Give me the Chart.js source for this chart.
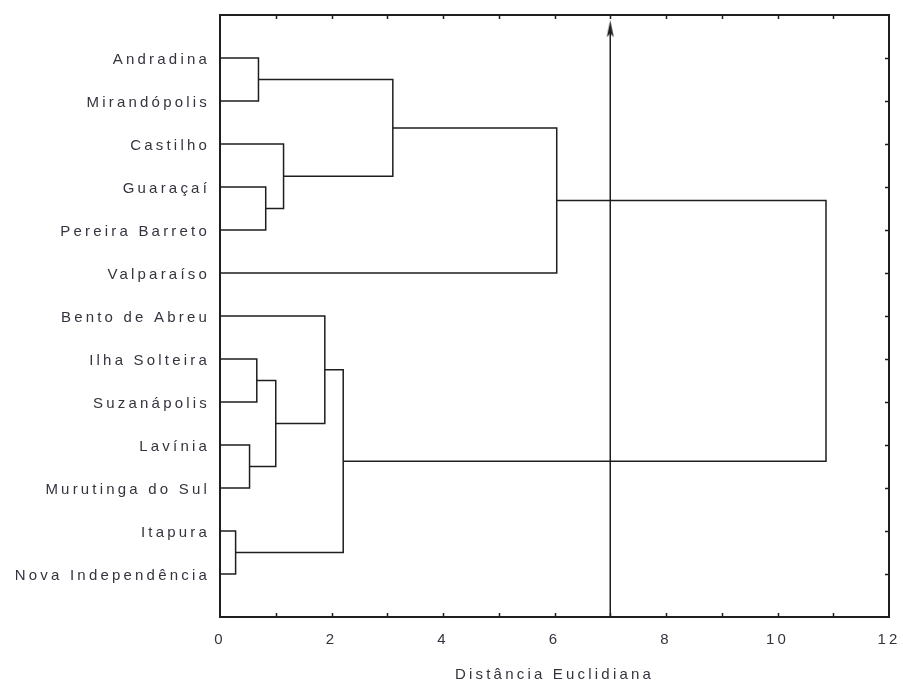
<!DOCTYPE html>
<html lang="pt">
<head>
  <meta charset="UTF-8">
  <title>Dendrograma - Distância Euclidiana</title>
  <style>
    html, body { margin: 0; padding: 0; background: #fff; }
    #wrap { width: 903px; height: 684px; }
  </style>
</head>
<body>
  <div id="wrap"><canvas id="dendro"></canvas></div>

  <script src="https://cdn.jsdelivr.net/npm/chart.js"></script>
  <script>
    // leaves, top to bottom
    const leafLabels = ['Andradina', 'Mirandópolis', 'Castilho', 'Guaraçaí', 'Pereira Barreto', 'Valparaíso',
      'Bento de Abreu', 'Ilha Solteira', 'Suzanápolis', 'Lavínia', 'Murutinga do Sul', 'Itapura', 'Nova Independência'];

    // merges: node ids 0..12 are leaves, merge k gets id 13 + k
    const mergeLeft   = [0,    3,    2,    13,   16,   7,    9,    18,   6,    11,   21,   17];
    const mergeRight  = [1,    4,    14,   15,   5,    8,    10,   19,   20,   12,   22,   23];
    const mergeHeight = [0.69, 0.82, 1.14, 3.10, 6.04, 0.66, 0.53, 1.00, 1.88, 0.28, 2.21, 10.87];

    const cutValue = 7;
    const xTicks = [0, 2, 4, 6, 8, 10, 12];
    const xMinorTicks = [1, 2, 3, 4, 5, 6, 7, 8, 9, 10, 11];

    const lineColor = '#1e1e1e';
    const textColor = '#34343f';
    const spacing = '3.2px';
    const labelFont = { family: 'Liberation Sans, Arial, sans-serif', size: 15 };

    // node positions (x = height, y = row index, leaves at 1..n)
    const nodeX = leafLabels.map(() => 0);
    const nodeY = leafLabels.map((_, i) => i + 1);
    const links = [];
    mergeHeight.forEach((h, k) => {
      const a = mergeLeft[k], b = mergeRight[k];
      links.push({
        label: 'link ' + k,
        data: [
          { x: nodeX[a], y: nodeY[a] },
          { x: h, y: nodeY[a] },
          { x: h, y: nodeY[b] },
          { x: nodeX[b], y: nodeY[b] }
        ],
        showLine: true,
        borderColor: lineColor,
        borderWidth: 1.5,
        pointRadius: 0,
        tension: 0
      });
      nodeX.push(h);
      nodeY.push((nodeY[a] + nodeY[b]) / 2);
    });

    // arrow head for the cut line
    const arrow = document.createElement('canvas');
    arrow.width = 9; arrow.height = 17;
    const actx = arrow.getContext('2d');
    actx.fillStyle = lineColor;
    actx.beginPath();
    actx.moveTo(4.5, 0);
    actx.lineTo(8, 17);
    actx.lineTo(4.5, 13);
    actx.lineTo(1, 17);
    actx.closePath();
    actx.fill();

    const cutLine = {
      label: 'corte',
      data: [{ x: cutValue, y: 14 }, { x: cutValue, y: 0.3 }, { x: cutValue, y: 0.32 }],
      showLine: true,
      borderColor: lineColor,
      borderWidth: 1.5,
      pointRadius: [0, 0, 4],
      pointStyle: arrow,
      tension: 0
    };

    // letter spacing like the original export
    const spacingPlugin = {
      id: 'spacing',
      beforeUpdate(chart) { chart.ctx.letterSpacing = spacing; },
      beforeDraw(chart) { chart.ctx.letterSpacing = spacing; }
    };

    // inside tick marks on the frame
    const innerTicks = {
      id: 'innerTicks',
      afterDraw(chart) {
        const { ctx, chartArea, scales } = chart;
        ctx.save();
        ctx.strokeStyle = lineColor;
        ctx.lineWidth = 1.5;
        ctx.beginPath();
        xMinorTicks.forEach(v => {
          const px = Math.round(scales.x.getPixelForValue(v)) + 0.5;
          ctx.moveTo(px, chartArea.bottom);
          ctx.lineTo(px, chartArea.bottom - 4);
          ctx.moveTo(px, chartArea.top);
          ctx.lineTo(px, chartArea.top + 4);
        });
        leafLabels.forEach((_, i) => {
          const py = Math.round(scales.y.getPixelForValue(i + 1)) + 0.5;
          ctx.moveTo(chartArea.right, py);
          ctx.lineTo(chartArea.right - 4, py);
        });
        ctx.stroke();
        ctx.restore();
      }
    };

    const frameBorder = { display: true, color: lineColor, width: 2 };

    new Chart(document.getElementById('dendro'), {
      type: 'scatter',
      data: { datasets: [...links, cutLine] },
      options: {
        responsive: true,
        maintainAspectRatio: false,
        animation: false,
        layout: { padding: { top: 15, right: 14, left: 0, bottom: 0 } },
        plugins: {
          legend: { display: false },
          tooltip: { enabled: false }
        },
        scales: {
          x: {
            type: 'linear',
            position: 'bottom',
            min: 0,
            max: 12,
            afterBuildTicks: s => { s.ticks = xTicks.map(v => ({ value: v })); },
            afterFit: s => { s.height = 67; s.paddingLeft = 0; s.paddingRight = 0; },
            grid: { display: false, drawTicks: false },
            border: frameBorder,
            ticks: {
              color: textColor,
              font: labelFont,
              padding: 14,
              maxRotation: 0
            },
            title: {
              display: true,
              text: 'Distância Euclidiana',
              color: textColor,
              font: labelFont,
              padding: { top: 0, bottom: 0 }
            }
          },
          x2: {
            type: 'linear',
            position: 'top',
            min: 0,
            max: 12,
            afterFit: s => { s.height = 0; s.paddingLeft = 0; s.paddingRight = 0; },
            grid: { display: false, drawTicks: false },
            border: frameBorder,
            ticks: { display: false }
          },
          y: {
            type: 'linear',
            position: 'left',
            reverse: true,
            min: 0,
            max: 14,
            afterBuildTicks: s => { s.ticks = leafLabels.map((_, i) => ({ value: i + 1 })); },
            afterFit: s => { s.width = 220; s.paddingTop = 0; s.paddingBottom = 0; },
            grid: { display: false, drawTicks: false },
            border: frameBorder,
            ticks: {
              autoSkip: false,
              color: textColor,
              font: labelFont,
              padding: 10,
              labelOffset: 2,
              callback: v => leafLabels[v - 1] || ''
            }
          },
          y2: {
            type: 'linear',
            position: 'right',
            reverse: true,
            min: 0,
            max: 14,
            afterFit: s => { s.width = 0; s.paddingTop = 0; s.paddingBottom = 0; },
            grid: { display: false, drawTicks: false },
            border: frameBorder,
            ticks: { display: false }
          }
        }
      },
      plugins: [spacingPlugin, innerTicks]
    });
  </script>
</body>
</html>
